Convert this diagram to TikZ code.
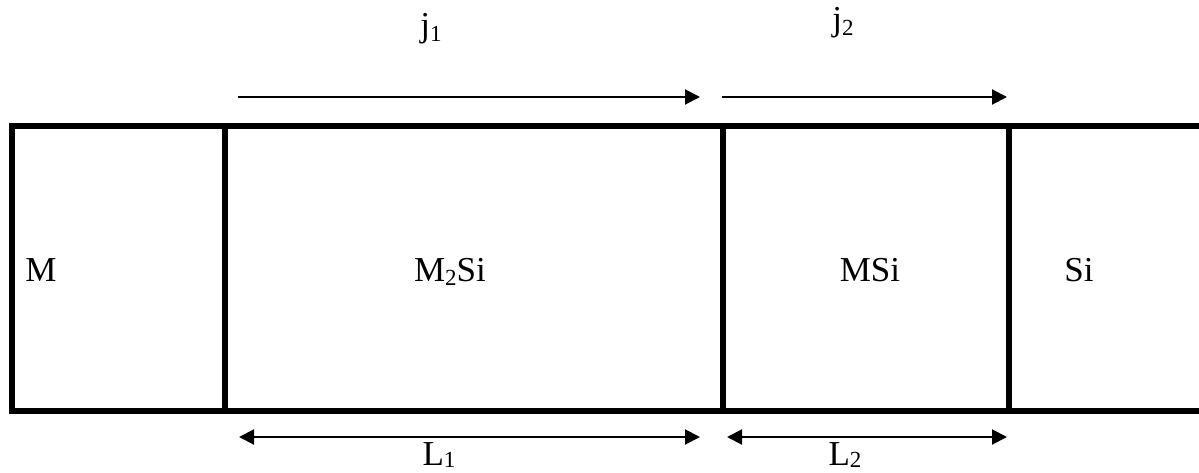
\documentclass[tikz,border=0pt]{standalone}
\usepackage{fontspec}
\setmainfont{Liberation Serif}
\usetikzlibrary{arrows.meta}
% lowered, smaller index text
\newcommand{\lowidx}[2][4pt]{\raisebox{-#1}{\fontsize{23}{23}\selectfont #2}}
\tikzset{
  wall/.style={line width=6pt, line join=miter, line cap=butt},
  flux/.style={line width=2pt, -{Triangle[length=15pt,width=15pt]}},
  span/.style={line width=2pt, {Triangle[length=15pt,width=15pt]}-{Triangle[length=15pt,width=15pt]}},
  lbl/.style={font=\fontsize{35}{40}\selectfont, inner sep=0pt, anchor=base}
}
\begin{document}
\begin{tikzpicture}[x=1pt, y=-1pt]
  \useasboundingbox (0,0) rectangle (1199,473);

  % layer boundaries
  \coordinate (tl) at (12,126);
  \coordinate (bl) at (12,411);
  \coordinate (tr) at (1199,126);
  \coordinate (br) at (1199,411);
  \draw[wall] (tr) -- (tl) -- (bl) -- (br);
  \foreach \x/\n in {225/a, 723/b, 1009/c} {
    \coordinate (\n t) at (\x,126);
    \coordinate (\n b) at (\x,411);
    \draw[wall] (\n t) -- (\n b);
  }

  % layer names
  \node[lbl] (m)    at (41,281)   {M};
  \node[lbl] (m2si) at (450,281)  {M\lowidx{2}Si};
  \node[lbl] (msi)  at (870,281)  {MSi};
  \node[lbl] (si)   at (1079,281) {Si};

  % fluxes
  \coordinate (j1s) at (238,97);
  \coordinate (j1e) at (700,97);
  \coordinate (j2s) at (722,97);
  \coordinate (j2e) at (1007,97);
  \draw[flux] (j1s) -- (j1e);
  \draw[flux] (j2s) -- (j2e);
  \node[lbl] (j1) at (431,37) {j\lowidx[5pt]{1}};
  \node[lbl] (j2) at (843,31) {j\lowidx[5pt]{2}};

  % thicknesses
  \coordinate (l1s) at (239,437);
  \coordinate (l1e) at (700,437);
  \coordinate (l2s) at (727,437);
  \coordinate (l2e) at (1007,437);
  \draw[span] (l1s) -- (l1e);
  \draw[span] (l2s) -- (l2e);
  \node[lbl] (l1) at (439,465) {L\lowidx[2pt]{1}};
  \node[lbl] (l2) at (845,465) {L\lowidx[2pt]{2}};
\end{tikzpicture}
\end{document}
